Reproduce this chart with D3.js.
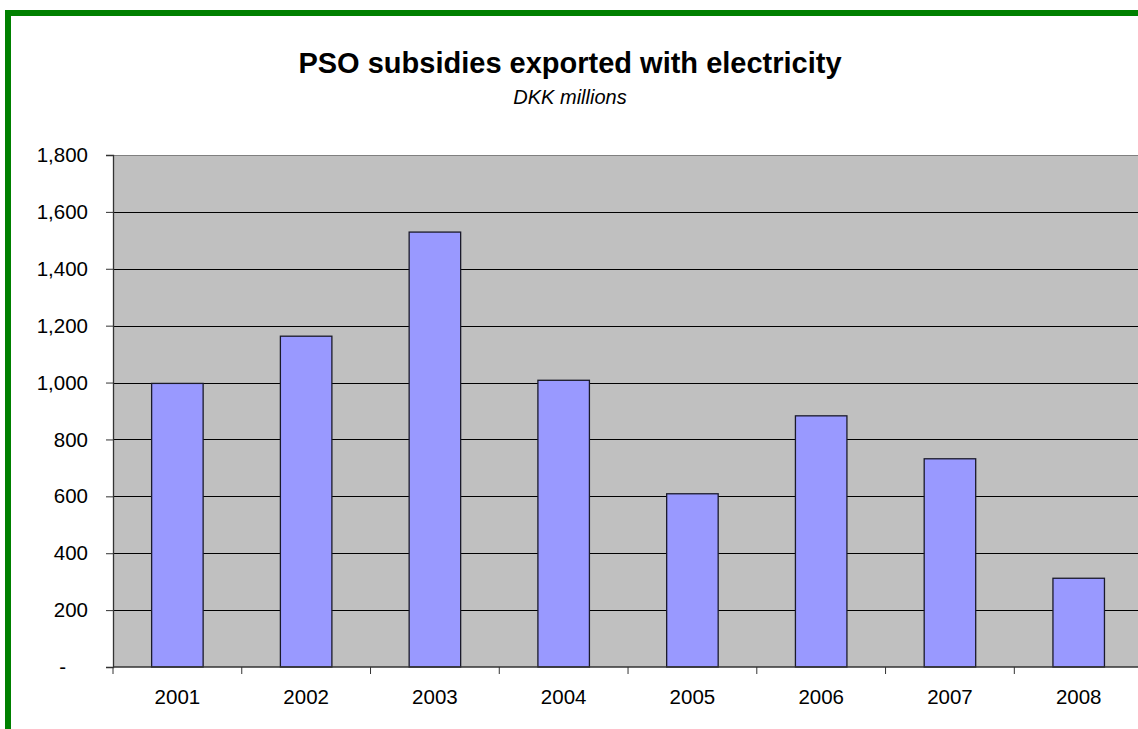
<!DOCTYPE html>
<html><head><meta charset="utf-8">
<script src="https://cdn.jsdelivr.net/npm/d3@7"></script>
<style>html,body{margin:0;padding:0;background:#fff;overflow:hidden}</style>
</head><body>
<svg id="c" width="1138" height="729"></svg>
<script>
const years = ["2001","2002","2003","2004","2005","2006","2007","2008"];
const subsidies = [997, 1163, 1529, 1008, 609, 883, 732, 312];
const yTicks = [0, 200, 400, 600, 800, 1000, 1200, 1400, 1600, 1800];
const title = "PSO subsidies exported with electricity";
const subtitle = "DKK millions";

(function () {
const svg = d3.select("#c");
const font = "'Liberation Sans', Arial, sans-serif";

// green frame
svg.append("rect").attr("x", 8).attr("y", 13).attr("width", 1200).attr("height", 800)
  .attr("fill", "none").attr("stroke", "#008000").attr("stroke-width", 6);

const pl = 113, pt = 155, pb = 667;
const band = 128.76;
const x = d3.scaleBand().domain(years).range([pl, pl + band * years.length]).paddingInner(0.6).paddingOuter(0.3);
const y = d3.scaleLinear().domain([0, 1800]).range([pb, pt]);

// plot background
svg.append("rect").attr("x", pl).attr("y", pt).attr("width", band * years.length).attr("height", pb - pt)
  .attr("fill", "#C0C0C0");
svg.append("line").attr("x1", pl).attr("x2", pl + band * 8).attr("y1", pt + 0.5).attr("y2", pt + 0.5)
  .attr("stroke", "#808080").attr("stroke-width", 1);

// gridlines
svg.append("g").selectAll("line").data(yTicks.filter(d => d > 0 && d < 1800)).join("line")
  .attr("x1", pl).attr("x2", pl + band * 8)
  .attr("y1", d => Math.round(y(d)) + 0.5).attr("y2", d => Math.round(y(d)) + 0.5)
  .attr("stroke", "#000").attr("stroke-width", 1.2);

// bars
svg.append("g").selectAll("rect").data(years).join("rect")
  .attr("x", d => x(d)).attr("width", x.bandwidth())
  .attr("y", (d, i) => y(subsidies[i])).attr("height", (d, i) => pb - y(subsidies[i]))
  .attr("fill", "#9999FF").attr("stroke", "#1a1a2a").attr("stroke-width", 1.3);

// y axis
const fmt = d => d === 0 ? "-" : d3.format(",")(d);
const ya = svg.append("g").attr("transform", `translate(${pl},0)`)
  .call(d3.axisLeft(y).tickValues(yTicks).tickFormat(fmt).tickSize(7).tickPadding(18));
ya.select(".domain").attr("stroke", "#333").attr("stroke-width", 1.3);
ya.selectAll(".tick line").attr("stroke", "#333");
ya.selectAll("text").attr("font-family", font).attr("font-size", 20.5).attr("fill", "#000");
ya.selectAll(".tick").filter(d => d === 0).select("text").attr("dx", -22);

// x axis
const xb = d3.scaleLinear().domain([0, 8]).range([pl, pl + band * 8]);
const xa = svg.append("g").attr("transform", `translate(0,${pb})`);
xa.append("line").attr("x1", pl).attr("x2", pl + band * 8).attr("y1", 0).attr("y2", 0)
  .attr("stroke", "#333").attr("stroke-width", 1.3);
xa.selectAll("line.t").data(d3.range(0, 9)).join("line").attr("class", "t")
  .attr("x1", d => xb(d)).attr("x2", d => xb(d)).attr("y1", 0).attr("y2", 7).attr("stroke", "#333");
xa.call(d3.axisBottom(x).tickSize(0).tickPadding(22))
  .call(g => g.select(".domain").remove());
xa.selectAll("text").attr("font-family", font).attr("font-size", 20.5).attr("fill", "#000");

// titles
svg.append("text").attr("x", 570).attr("y", 73).attr("text-anchor", "middle")
  .attr("font-family", font).attr("font-weight", "bold").attr("font-size", 29).text(title);
svg.append("text").attr("x", 570).attr("y", 104).attr("text-anchor", "middle")
  .attr("font-family", font).attr("font-style", "italic").attr("font-size", 20).text(subtitle);
})();
</script>
</body></html>
